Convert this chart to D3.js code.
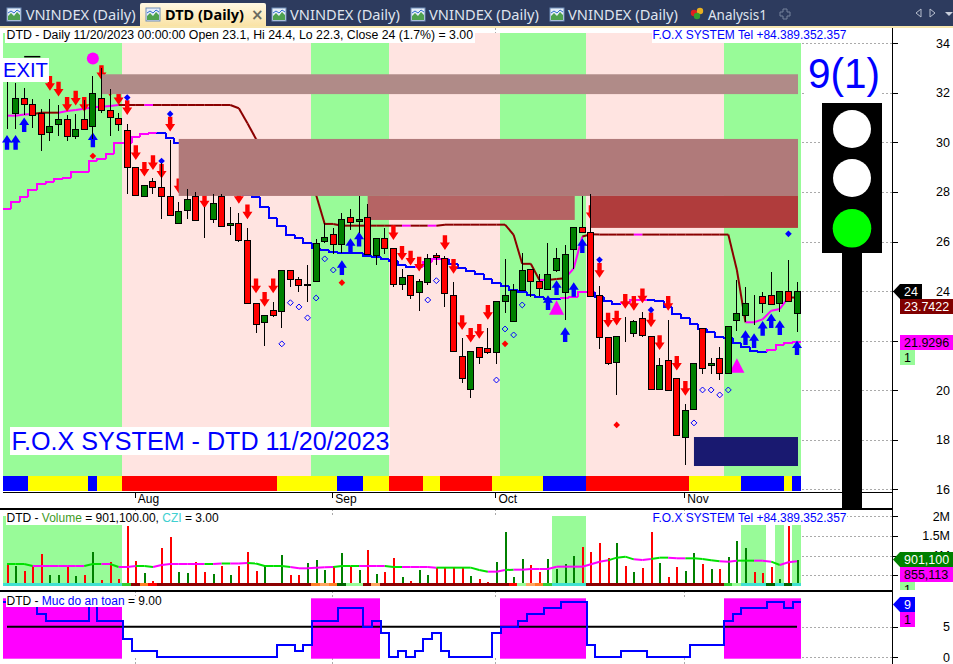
<!DOCTYPE html>
<html><head><meta charset="utf-8">
<script src="https://cdn.jsdelivr.net/npm/d3@7"></script>
<style>html,body{margin:0;padding:0;background:#fff;overflow:hidden}svg{display:block}text{font-family:"Liberation Sans",Arial,sans-serif}</style>
</head><body><svg id="c" width="953" height="664"></svg>
<script>
const highs=[32.45,32.4,32.2,31.75,31.35,31.75,31.5,31.1,31.15,31.7,32.7,33,32.15,31.2,30.75,29,28.3,28.55,29.15,30.1,27.6,28.1,28,27.4,27.9,27.9,27.4,27.15,26.55,23.5,23.05,23.55,24.85,24.85,24.55,25.05,26.1,26.75,26.55,27.15,27.3,27.85,27.5,26.15,26.55,25.75,24.9,24.65,24.5,25.5,25.55,25.4,24.35,22.1,21.6,21.75,22.5,23.6,25.3,24.3,25.55,24.9,24.7,25.95,25.75,25.85,26.6,27.85,27.9,24.2,22.15,22.2,22.95,22.85,23.15,22.2,21.3,22.85,20.5,19.45,21.1,22.5,21.3,21.75,22.6,24.45,24.15,23.85,23.95,24.75,24,25.25,24.35];
const opens=[31.2,31.2,31.8,31.55,31.2,30.4,30.75,30.95,30.25,30.95,30.65,31.8,31.3,31,30.5,29,27.85,28.45,28.2,27.85,26.75,27.25,27.85,26.9,26.9,27.85,26.65,26.75,26.05,23.5,22.75,23.25,23.2,24.85,24.5,24.25,24.4,26.05,26.3,25.9,27,26.8,27,25.45,26.15,25.75,24.25,24.65,23.95,24.4,25.45,25.35,23.85,21.4,20.05,21.75,21.7,21.55,23.6,22.8,24.05,24.9,24.4,24.1,24.85,23.95,25.7,26.6,26.4,23.85,22.15,21.15,22.3,22.3,22.9,22.2,20.05,21.2,20.5,18.1,19.25,22.5,21,21.3,20.7,22.8,23,23.5,23.8,23.85,23.5,24,23.1];
const closes=[31.2,31.8,31.55,31.1,30.35,30.65,30.95,30.25,30.55,30.55,32,31.3,31,30.75,29,27.85,28.3,28.2,27.85,27.1,27.25,27.7,26.9,26.9,27.55,26.65,26.75,26.05,23.5,22.65,23.05,23.05,24.85,24.5,24.25,24.3,25.95,26.2,25.9,26.9,26.8,26.9,25.5,26.15,25.75,24.3,24.55,23.85,24.4,25.35,25.35,23.95,21.6,20.5,21.6,21.35,21.55,23.6,23.85,24.05,24.85,24.4,24.1,24.7,25.35,25.5,26.6,26.4,23.8,22.15,21.1,22.2,22.3,22.8,22.2,20.05,21,20,18.2,19.2,21.1,20.9,21.1,20.7,22.6,23.1,23.5,23.5,23.5,23.5,24,23.6,24];
const lows=[30.55,30.55,31.1,30.6,29.65,30.05,30.25,30.05,30.15,30.55,30.15,31.2,30.25,30.45,27.9,27.85,27.85,27.9,26.9,27.05,26.7,26.9,26.85,26.15,26.75,26.6,26.25,26,23.5,22.3,21.8,22.95,22.5,24.15,23.95,23.55,24.35,25.95,25.5,25.55,26.45,26.35,25.5,25.05,25.5,24.15,24.05,23.7,23.2,24.25,25.05,23.35,21.6,20.3,19.7,21.05,21.45,21.05,23.1,22.8,24.05,23.75,23.8,24.1,24.75,22.85,24.9,26.4,23.8,21.65,21,19.8,21.95,22.15,22.15,20.05,20,20,18.2,17,19.25,20.65,20.65,20.4,20.65,22.4,22.75,22.65,23.1,23.45,23.15,23.6,22.35];
const upperLine=[31.08,31.08,31.13,31.15,31.2,31.2,31.2,31.27,31.31,31.36,31.42,31.44,31.47,31.51,31.51,31.51,31.51,31.51,31.51,31.51,31.51,31.51,31.51,31.51,31.51,31.51,31.51,31.38,30.77,30.14,29.7,29.29,29.02,28.75,28.49,28.22,27.88,26.71,26.71,26.64,26.64,26.64,26.64,26.64,26.64,26.64,26.64,26.64,26.64,26.64,26.64,26.68,26.68,26.68,26.68,26.68,26.68,26.68,26.68,26.27,25.1,25.1,24.45,24.45,24.49,24.52,24.92,26.2,26.29,26.28,26.28,26.28,26.28,26.28,26.28,26.28,26.28,26.28,26.28,26.28,26.28,26.28,26.28,26.28,26.28,24.85,22.74,22.74,22.86,23.21,23.28,23.74,23.74];
const upperMagentaBars=[0,1,2,3,7,8,9,10,11,12,13,17,47,50,63,66,67,74,87,88,89,90,91];
const lowerLine=[27.31,27.6,27.81,28.08,28.31,28.42,28.53,28.55,28.82,28.82,29.25,29.35,29.53,29.96,29.99,30.23,30.34,30.4,30.37,30.17,29.96,29.83,29.56,29.16,28.75,28.42,28.15,27.95,27.88,27.81,27.38,26.94,26.64,26.27,26.13,25.93,25.73,25.66,25.59,25.55,25.55,25.53,25.43,25.39,25.3,25.23,25.07,24.99,24.99,25.19,25.28,25.28,25.1,24.95,24.83,24.68,24.48,24.32,24.22,24.05,23.98,23.86,23.78,23.7,23.7,23.71,23.78,23.95,23.95,23.78,23.58,23.48,23.51,23.62,23.62,23.62,23.58,23.37,23.09,22.9,22.69,22.46,22.34,22.16,22.1,21.89,21.73,21.6,21.56,21.62,21.81,21.89,21.93];
const lowerMagentaRuns=[[0,17],[48,51],[65,68],[72,74],[89,92]];
const greenZoneRuns=[[0,13],[36,44],[58,67],[84,92]];
const stripKinds=[["blue",3],["yellow",7],["blue",1],["yellow",3],["red",18],["yellow",7],["blue",3],["yellow",3],["red",4],["yellow",2],["red",6],["yellow",6],["blue",5],["red",12],["yellow",6],["blue",5],["yellow",1],["blue",1]];
const levelBoxes=[[11,92,32.75,31.95,"#b08b88"],[20,92,30.14,27.84,"#b07a7a"],[42,66,27.84,26.87,"#b56464"],[68,92,27.84,26.55,"#b03c3c"],[80,92,18.11,16.94,"#191970"]];
const redArrowBars=[5,6,7,8,9,11,12,13,14,15,16,17,18,19,20,23,27,28,29,30,31,45,46,47,48,51,52,53,54,55,56,68,69,70,71,72,73,74,75,76,77,78,79];
const redArrowTips=[32.09,31.85,31.24,31.49,31.24,32.52,31.85,31.51,31.11,29.29,28.62,28.89,28.54,30.44,27.95,27.34,27.52,26.9,23.91,23.37,23.91,26.06,25.23,25.03,24.79,25.66,24.7,22.43,21.92,22.08,22.84,26.87,24.54,22.53,22.61,23.29,23.21,23.51,22.54,21.62,23.21,20.79,19.78];
const blueArrowBars=[0,1,2,10,39,40,41,63,64,65,66,67,86,87,88,89,90,92];
const blueArrowTips=[30.3,30.3,31.01,30.4,25.24,26.13,26.39,23.83,24.44,22.54,24.36,26.13,22.42,22.3,22.79,23.1,22.82,22.01];
const blueDotBars=[14,18,19,69,75,91];
const blueDotPrices=[31.81,29.25,31.15,25.26,23.24,26.31];
const redDotBars=[10,39,58,71];
const redDotPrices=[29.45,24.34,21.87,18.6];
const openDiamondBars=[32,33,34,35,36,37,38,49,50,57,58,59,60,80,81,82,83,84];
const openDiamondPrices=[21.87,23.53,23.36,22.92,23.72,25.3,24.85,23.64,24.42,20.41,22.47,22.23,23.44,18.68,20.01,20.01,19.81,20.01];
const triangleBars=[64,85];
const trianglePrices=[23.04,20.7];
const volumes=[.779,.737,.61,.737,1.03,.51,.51,.72,.48,.51,1.09,.38,.84,.41,1.75,.86,.56,.36,1.19,1.47,.58,.56,.84,.58,.53,.74,.51,.74,1.09,.61,.75,.3,1.02,.51,.51,.81,.89,.64,.74,1.07,.74,.64,1.14,.53,.58,.94,.46,.36,.64,.51,.69,.71,.71,.71,.48,.4,.32,.84,1.6,.46,.91,.76,.58,.91,.66,.79,.99,1.22,1.09,1.32,.94,1.32,.74,.58,.69,1.6,.81,.46,.71,.61,1.07,.79,.66,.66,.96,1.37,1.19,.58,.56,.71,.41,1.75,.9011];
const volumeAvg=[.787,.787,.787,.737,.737,.737,.737,.737,.737,.737,.787,.787,.787,.711,.711,.737,.737,.711,.762,.787,.787,.787,.787,.787,.787,.8,.8,.8,.813,.8,.737,.737,.737,.711,.678,.678,.695,.703,.711,.737,.737,.737,.737,.737,.737,.711,.711,.711,.711,.711,.695,.695,.695,.695,.695,.635,.593,.593,.635,.644,.644,.661,.661,.661,.72,.72,.72,.72,.779,.846,.88,.948,.973,.905,.889,.914,.948,.948,.931,.931,.931,.914,.88,.855,.846,.872,.872,.872,.872,.846,.762,.83,.855];
const volumeAvgMagentaRuns=[[4,9],[12,12],[14,15],[18,23],[25,25],[27,28],[34,38],[42,44],[47,50],[57,58],[60,70],[74,75],[78,79],[84,85],[88,89],[91,92]];
const volumeZoneRuns=[[0,13],[64,67],[86,88],[90,90],[92,92]];
const cziRuns=[["turq",14],["green",1],["dark",1],["orange",1],["red",1],["dark",18],["orange",1],["sandy",1],["orange",1],["dkgreen",1],["pale",2],["dark",1],["sandy",1],["dark",15],["red",1],["pale",1],["sandy",1],["orange",1],["green",1],["turq",4],["dark",16],["green",1],["pale",1],["turq",3],["dkgreen",1],["turq",1],["dkgreen",1],["turq",1]];
const safety=[9,9,9,9,7,6,6,6,6,6,9,6,6,6,3,1,1,1,0,0,0,0,0,0,0,0,0,0,0,0,0,0,2,2,1,2,6,6,6,8,8,8,5,6,4,0,1,0,1,3,4,1,0,0,0,0,0,4,5,5,6,7,7,8,8,9,9,9,2,0,0,0,1,1,1,0,0,0,0,0,2,2,2,2,6,7,8,8,8,9,9,8,9];
const safetyZoneRuns=[[0,13],[36,43],[58,67],[84,92]];
const priceTicks=[16,18,20,22,24,26,28,30,32,34];
const volumeTicks=[.5,1,1.5,2];
const volumeTickLabels=["","1M","1.5M","2M"];
const safetyTicks=[0,5];
const monthBars=[15,38,57,79];
const monthLabels=["Aug","Sep","Oct","Nov"];
const tabLabels=["VNINDEX (Daily)","DTD (Daily)","VNINDEX (Daily)","VNINDEX (Daily)","VNINDEX (Daily)","Analysis1"];
const titleMain="DTD - Daily 11/20/2023 00:00:00 Open 23.1, Hi 24.4, Lo 22.3, Close 24 (1.7%)   = 3.00";
const foxTel="F.O.X SYSTEM Tel +84.389.352.357";
const foxBig="F.O.X SYSTEM - DTD 11/20/2023";

const svg=d3.select("#c");
const N=closes.length;
const x=d3.scalePoint().domain(d3.range(N)).range([7,797]);
const step=x.step();
const edge=i=>Math.max(3,x(i)-step/2);
const right=i=>x(i)+step/2;
const yP=d3.scaleLinear().domain([16,34]).range([489.3,43.3]);
const yV=d3.scaleLinear().domain([0,2]).range([595.1,516.1]);
const yS=d3.scaleLinear().domain([0,9]).range([657.3,602.2]);
const px=v=>Math.round(v)+.5;
const C={blue:"#0000ff",yellow:"#ffff00",red:"#ff0000",turq:"#40e0d0",green:"#32cd32",dark:"#8b0000",orange:"#ff7f27",sandy:"#ffa560",dkgreen:"#006400",pale:"#98fb98"};
const GREEN="#98fb98",PINK="#ffe4e1",MAG="#ff00ff",DRED="#8b0000",CG="#008000";

function fillRuns(g,runs,y0,y1,fill){
  g.selectAll(null).data(runs).join("rect")
   .attr("x",d=>Math.floor(edge(d[0]))).attr("width",d=>Math.floor(right(d[1]))-Math.floor(edge(d[0])))
   .attr("y",y0).attr("height",y1-y0).attr("fill",fill);
}
function expandRuns(arr){let i=0;return arr.map(([k,n])=>{const r={k,a:i,b:i+n-1};i+=n;return r;});}
function inRuns(runs,i){return runs.some(r=>i>=r[0]&&i<=r[1]);}
function box(g,x0,y0,w,h,f){g.append("rect").attr("x",x0).attr("y",y0).attr("width",w).attr("height",h).attr("fill",f);}
function txt(g,s,x0,y0,o={}){
  const t=g.append("text").attr("x",x0).attr("y",y0).attr("font-size",o.size||12).attr("fill",o.fill||"#000").text(s);
  if(o.weight)t.attr("font-weight",o.weight);
  if(o.anchor)t.attr("text-anchor",o.anchor);
  if(o.len)t.attr("textLength",o.len).attr("lengthAdjust","spacingAndGlyphs");
  if(o.family)t.style("font-family",o.family);
  return t;
}

/* header */
const head=svg.append("g");
box(head,0,0,953,26,"#2d3b5e");
box(head,0,26,953,2,"#f7e6ae");
const defs=svg.append("defs");
const grad=defs.append("linearGradient").attr("id","tab").attr("x1",0).attr("x2",0).attr("y1",0).attr("y2",1);
grad.append("stop").attr("offset",0).attr("stop-color","#fff8e2");
grad.append("stop").attr("offset",1).attr("stop-color","#fae3a6");
defs.append("clipPath").attr("id","tagclip").append("rect").attr("x",893).attr("y",582).attr("width",60).attr("height",8);
head.append("path").attr("d","M140,26V5Q140,3,142,3H264Q266,3,266,5V26Z").attr("fill","url(#tab)");
function icon(x0){
  const g=head.append("g").attr("transform",`translate(${x0},8)`);
  g.append("rect").attr("width",14).attr("height",13).attr("fill","#e6eef8").attr("stroke","#6f8db8");
  g.append("path").attr("d","M1,12L1,8L4,5L7,8L10,4L13,7L13,12Z").attr("fill","#4fa24f");
  g.append("path").attr("d","M1,5L4,3L7,5L10,2L13,4").attr("fill","none").attr("stroke","#2f6fd0");
}
const tabIcon=[7,146,272,411,550];
const tabText=[25.7,165,290,429,568,708];
const tabLen=[110,79,110,110,110,59];
tabIcon.forEach(icon);
tabLabels.forEach((s,i)=>txt(head,s,tabText[i],20,{size:14,fill:i==1?"#000":"#dfe4ee",weight:i==1?"bold":null,len:tabLen[i],family:"'Noto Sans',sans-serif"}));
txt(head,"×",251,20,{size:15,fill:"#6b6b60",weight:"bold",family:"'DejaVu Sans',sans-serif"});
head.append("circle").attr("cx",694).attr("cy",13).attr("r",3.2).attr("fill","#e02020");
head.append("circle").attr("cx",700).attr("cy",11).attr("r",3.2).attr("fill","#e8b020");
head.append("circle").attr("cx",697).attr("cy",16).attr("r",3.2).attr("fill","#30a030");
head.append("path").attr("d","M783,9h4v3h3v4h-3v3h-4v-3h-3v-4h3z").attr("fill","none").attr("stroke","#77839c");
head.append("path").attr("d","M921,9v8l-5,-4zM930,9v8l5,-4z").attr("fill","none").attr("stroke","#b9c0cf");
head.append("path").attr("d","M945,12h8l-4,4z").attr("fill","#c8cedb");

/* grid + axes */
const grid=svg.append("g").attr("stroke","#aaa").attr("stroke-dasharray","2,2").attr("fill","none");
function hgrid(ticks,y){grid.selectAll(null).data(ticks).join("line").attr("x1",802).attr("x2",892).attr("y1",d=>px(y(d))).attr("y2",d=>px(y(d)));}
hgrid(priceTicks,yP);hgrid(volumeTicks,yV);hgrid(safetyTicks,yS);
monthBars.forEach(b=>{const xx=px(x(b)-1);
  [[28,33],[509,516],[591,598],[658,664]].forEach(([a,c])=>grid.append("line").attr("x1",xx).attr("x2",xx).attr("y1",a).attr("y2",c));});

/* main zones */
const main=svg.append("g");
box(main,3,33,Math.floor(right(N-1))-3,458,PINK);
fillRuns(main,greenZoneRuns,33,491,GREEN);

/* bottom state strip */
main.selectAll(null).data(expandRuns(stripKinds)).join("rect")
 .attr("x",d=>Math.floor(edge(d.a))).attr("width",d=>Math.floor(right(d.b))-Math.floor(edge(d.a)))
 .attr("y",476).attr("height",15).attr("fill",d=>C[d.k]);

/* indicator lines */
const ln=d3.line();
const up=svg.append("g").attr("fill","none").attr("stroke-width",2);
up.selectAll(null).data(d3.range(1,N)).join("path")
 .attr("d",i=>ln([[x(i-1),yP(upperLine[i-1])],[x(i),yP(upperLine[i])]]))
 .attr("stroke",i=>upperMagentaBars.includes(i)?MAG:DRED);
const lo=svg.append("g").attr("fill","none").attr("stroke-width",2).attr("shape-rendering","crispEdges");
lo.selectAll(null).data(d3.range(N)).join("path")
 .attr("d",i=>{const a=edge(i),b=right(i),yy=yP(lowerLine[i]);
   return ln(i?[[a,yP(lowerLine[i-1])],[a,yy],[b,yy]]:[[a,yy],[b,yy]]);})
 .attr("stroke",i=>inRuns(lowerMagentaRuns,i)?MAG:"#0000ff");

/* arrows + markers */
const mk=svg.append("g");
const downA="M0,0L-5,-7.5L-2.2,-7.5L-2.2,-14.7L2.2,-14.7L2.2,-7.5L5,-7.5Z";
const upA="M0,0L-5,7.5L-2.2,7.5L-2.2,14.7L2.2,14.7L2.2,7.5L5,7.5Z";
mk.selectAll(null).data(redArrowBars).join("path").attr("d",downA).attr("fill","#ff0000")
 .attr("transform",(b,i)=>`translate(${x(b)},${yP(redArrowTips[i])})`);
mk.selectAll(null).data(blueArrowBars).join("path").attr("d",upA).attr("fill","#0000ff")
 .attr("transform",(b,i)=>`translate(${x(b)},${yP(blueArrowTips[i])})`);
const dia=d3.symbol().type(d3.symbolDiamond2);
mk.selectAll(null).data(blueDotBars).join("path").attr("d",dia.size(28)()).attr("fill","#0000ff")
 .attr("transform",(b,i)=>`translate(${x(b)},${yP(blueDotPrices[i])})`);
mk.selectAll(null).data(redDotBars).join("path").attr("d",dia.size(28)()).attr("fill","#ff0000")
 .attr("transform",(b,i)=>`translate(${x(b)},${yP(redDotPrices[i])})`);
mk.selectAll(null).data(openDiamondBars).join("path").attr("d",dia.size(22)()).attr("fill","none").attr("stroke","#0000ff")
 .attr("transform",(b,i)=>`translate(${x(b)},${yP(openDiamondPrices[i])})`);
mk.selectAll(null).data(triangleBars).join("path").attr("d","M0,0L7.5,14.5L-7.5,14.5Z").attr("fill",MAG)
 .attr("transform",(b,i)=>`translate(${x(b)},${yP(trianglePrices[i])-14.5})`);
mk.append("circle").attr("cx",x(10)).attr("cy",yP(33.39)).attr("r",6).attr("fill",MAG);
mk.append("path").attr("d",ln([[x(2),yP(33.46)],[x(4)-1,yP(33.46)]])).attr("stroke","#000").attr("stroke-width",1.5);

/* level boxes */
svg.append("g").selectAll(null).data(levelBoxes).join("rect")
 .attr("x",d=>x(d[0])).attr("width",d=>x(d[1])-x(d[0])+1)
 .attr("y",d=>yP(d[2])).attr("height",d=>yP(d[3])-yP(d[2])).attr("fill",d=>d[4]);

/* candles */
const cg=svg.append("g").attr("shape-rendering","crispEdges");
const idx=d3.range(N);
cg.selectAll(null).data(idx).join("line").attr("stroke","#000")
 .attr("x1",i=>px(x(i)-.5)).attr("x2",i=>px(x(i)-.5)).attr("y1",i=>yP(highs[i])).attr("y2",i=>yP(lows[i]));
cg.selectAll(null).data(idx).join("rect")
 .attr("x",i=>px(x(i)-.5)-3).attr("width",6)
 .attr("y",i=>px(yP(Math.max(opens[i],closes[i]))))
 .attr("height",i=>Math.max(0,Math.round(yP(Math.min(opens[i],closes[i]))-yP(Math.max(opens[i],closes[i])))))
 .attr("fill",i=>closes[i]>opens[i]?CG:"#ff0000").attr("stroke","#000");

/* overlay labels */
const lb=svg.append("g");
box(lb,5,28,470,15,"#fff");
txt(lb,titleMain,6.5,39,{size:12,len:466.5});
box(lb,652,28,195,15,"#fff");
txt(lb,foxTel,652.5,39,{size:12,fill:"#0000ff",len:194});
box(lb,3,58,46,24,"#fff");
txt(lb,"EXIT",3,77,{size:21,fill:"#0000ff",len:45});
box(lb,10,427,380,28,"#fff");
txt(lb,foxBig,11.5,450,{size:25,fill:"#0000ff",len:378});
box(lb,806,50,76,50,"#fff");
txt(lb,"9(1)",808,87.5,{size:42,fill:"#0000ff",len:72});

/* traffic light */
const tl=svg.append("g");
box(tl,842,253,20,255,"#000");
box(tl,822,103,60,150,"#000");
tl.append("circle").attr("cx",852).attr("cy",129).attr("r",19).attr("fill","#fff");
tl.append("circle").attr("cx",852).attr("cy",178).attr("r",19).attr("fill","#fff");
tl.append("circle").attr("cx",852).attr("cy",228.3).attr("r",19.3).attr("fill","#00ff00");

/* frame lines */
const fr=svg.append("g").attr("stroke","#000").attr("shape-rendering","crispEdges");
fr.append("line").attr("x1",3).attr("x2",892).attr("y1",492).attr("y2",492);
fr.append("line").attr("x1",0).attr("x2",892).attr("y1",509).attr("y2",509).attr("stroke-width",2);
fr.append("line").attr("x1",0).attr("x2",892).attr("y1",591).attr("y2",591).attr("stroke-width",2);
fr.append("line").attr("x1",892.5).attr("x2",892.5).attr("y1",28).attr("y2",664);

/* month ticks */
const mg=svg.append("g");
monthBars.forEach((b,i)=>{
  mg.append("line").attr("x1",px(x(b)-1)).attr("x2",px(x(b)-1)).attr("y1",492).attr("y2",498).attr("stroke","#000").attr("shape-rendering","crispEdges");
  txt(mg,monthLabels[i],x(b)+2,503,{size:12});
});

/* right axes */
function axis(scale,ticks,fmt){
  const g=svg.append("g").attr("transform","translate(892.5,0)")
    .call(d3.axisRight(scale).tickValues(ticks).tickSize(5).tickFormat(fmt));
  g.select(".domain").remove();
  g.selectAll("line").attr("stroke","#000").attr("shape-rendering","crispEdges");
  g.selectAll("text").attr("x",57.5).attr("text-anchor","end").attr("font-size",12.5).attr("fill","#000").style("font-family",'"Liberation Sans",Arial,sans-serif');
}
axis(yP,priceTicks,d=>d===22?"":d);
axis(yV,volumeTicks,(d,i)=>volumeTickLabels[i]);
axis(yS,safetyTicks,d=>d);

/* volume panel */
const vp=svg.append("g");
fillRuns(vp,volumeZoneRuns,516,586,GREEN);
vp.append("g").attr("shape-rendering","crispEdges").selectAll(null).data(idx).join("rect")
 .attr("x",i=>Math.round(x(i)-.5)).attr("width",2).attr("y",i=>yV(volumes[i])).attr("height",i=>586-yV(volumes[i]))
 .attr("fill",i=>closes[i]>opens[i]?CG:"#ff0000");
vp.append("g").selectAll(null).data(expandRuns(cziRuns)).join("rect")
 .attr("x",d=>Math.floor(edge(d.a))).attr("width",d=>Math.floor(right(d.b))-Math.floor(edge(d.a)))
 .attr("y",583).attr("height",3).attr("fill",d=>C[d.k]);
vp.append("g").attr("fill","none").attr("stroke-width",2).selectAll(null).data(d3.range(1,N)).join("path")
 .attr("d",i=>ln([[x(i-1),yV(volumeAvg[i-1])],[x(i),yV(volumeAvg[i])]]))
 .attr("stroke",i=>inRuns(volumeAvgMagentaRuns,i)?MAG:"#00e000");
box(vp,6,514,215,11,"#fff");
const vt=txt(vp,"",6.5,522.3,{size:12});
vt.append("tspan").text("DTD - ");
vt.append("tspan").attr("fill","#3e9a1f").text("Volume");
vt.append("tspan").text(" = 901,100.00, ");
vt.append("tspan").attr("fill","#40d0d0").text("CZI");
vt.append("tspan").text(" = 3.00");
box(vp,652,514,195,11,"#fff");
txt(vp,foxTel,652.5,522.3,{size:12,fill:"#0000ff",len:194});

/* safety panel */
const sp=svg.append("g");
fillRuns(sp,safetyZoneRuns,598.3,658.7,MAG);
sp.append("path").attr("d",ln([[x(0),yS(5)],[x(N-1),yS(5)]])).attr("stroke","#000").attr("stroke-width",2).attr("fill","none");
const sPts=idx.flatMap(i=>[[edge(i),yS(safety[i])],[right(i),yS(safety[i])]]);
sp.append("path").attr("d",ln(sPts)).attr("fill","none").attr("stroke","#0000ff").attr("stroke-width",2).attr("shape-rendering","crispEdges");
box(sp,6,596,155,11,"#fff");
const st=txt(sp,"",6.5,604.5,{size:12});
st.append("tspan").text("DTD - ");
st.append("tspan").attr("fill","#0000ff").text("Muc do an toan");
st.append("tspan").text(" = 9.00");

/* right tags */
const tg=svg.append("g");
function tag(y0,w,fill,s,color){
  tg.append("path").attr("d",`M893,${y0+7.5}L900,${y0}H${900+w}V${y0+15}H900Z`).attr("fill",fill);
  txt(tg,s,904,y0+12,{size:12.5,fill:color});
}
function tbox(y0,w,h,fill,s,color){
  box(tg,900,y0,w,h,fill);
  return txt(tg,s,904,y0+12,{size:12.5,fill:color});
}
const lastClose=closes[N-1],lastUpper=23.7422,lastLower=21.9296;
tag(Math.round(yP(lastClose))-7,22,"#000",String(lastClose),"#fff");
tbox(299,53,15,"#800000",lastUpper.toFixed(4),"#fff");
tbox(335,53,15,MAG,lastLower.toFixed(4),"#000");
tbox(350,15,15,GREEN,"1","#000");
tag(552,53,CG,"901,100","#fff");
tbox(567,53,15,MAG,"855,113","#000");
tbox(582,15,8,GREEN,"1","#000").attr("clip-path","url(#tagclip)").attr("y",594);
tag(597,15,"#0000ff",String(safety[N-1]),"#fff");
tbox(612,15,15,MAG,"1","#000");
</script></body></html>
